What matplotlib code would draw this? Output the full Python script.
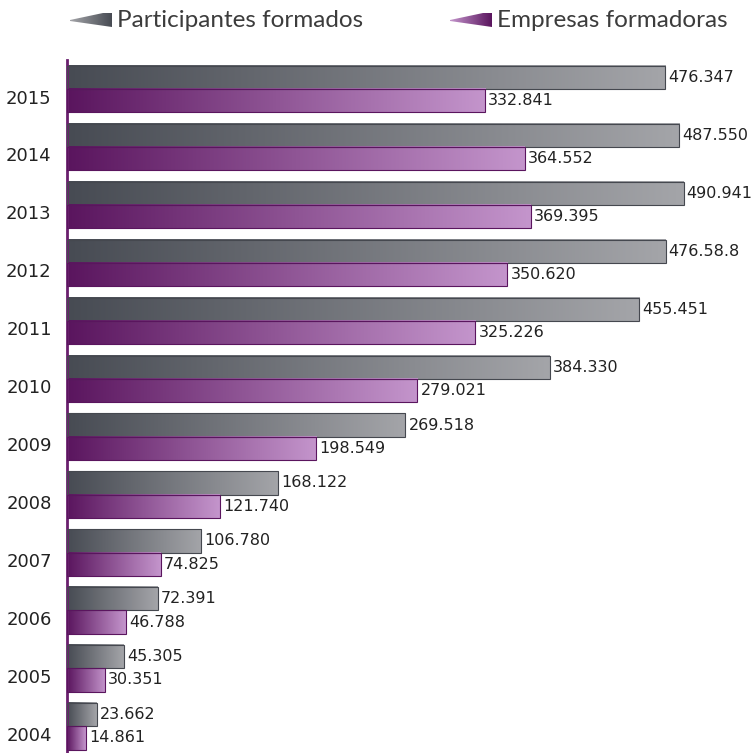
import matplotlib
matplotlib.use("Agg")
import matplotlib.pyplot as plt
import numpy as np
from matplotlib.colors import LinearSegmentedColormap
from matplotlib.patches import Rectangle, Polygon

years = ["2004", "2005", "2006", "2007", "2008", "2009", "2010", "2011", "2012", "2013", "2014", "2015"]
participantes = [23.662, 45.305, 72.391, 106.780, 168.122, 269.518, 384.330, 455.451, 476.588, 490.941, 487.550, 476.347]
empresas = [14.861, 30.351, 46.788, 74.825, 121.740, 198.549, 279.021, 325.226, 350.620, 369.395, 364.552, 332.841]
part_labels = ["23.662", "45.305", "72.391", "106.780", "168.122", "269.518", "384.330", "455.451", "476.58.8", "490.941", "487.550", "476.347"]
emp_labels = ["14.861", "30.351", "46.788", "74.825", "121.740", "198.549", "279.021", "325.226", "350.620", "369.395", "364.552", "332.841"]
legend_names = ["Participantes formados", "Empresas formadoras"]

gray_cmap = LinearSegmentedColormap.from_list("g", ["#474b53", "#a4a5a9"])
purp_cmap = LinearSegmentedColormap.from_list("p", ["#5a155e", "#c495cc"])
grad = np.linspace(0, 1, 256).reshape(1, -1)

fig = plt.figure(figsize=(7.54, 7.53), dpi=100)
ax = fig.add_axes([67 / 754, 0, 687 / 754, 693 / 753])

h = 0.4
label_font = dict(family=["DejaVu Sans"], fontsize=11.5, color="#222222")
for i in range(len(years)):
    for vals, labs, cmap, yc, ec in ((participantes, part_labels, gray_cmap, i + 0.2, "#45484f"),
                                     (empresas, emp_labels, purp_cmap, i - 0.2, "#5a155e")):
        v = vals[i]
        y0, y1 = yc - h / 2, yc + h / 2
        ax.imshow(grad, cmap=cmap, extent=(0, v, y0, y1), aspect="auto", zorder=2, interpolation="bilinear")
        ax.add_patch(Rectangle((0, y0), v, h, fill=False, edgecolor=ec, linewidth=0.8, zorder=3))
        ax.text(v + 2.5, yc, labs[i], va="center", ha="left", **label_font)

ax.set_xlim(0, 547)
ax.set_ylim(-0.46, 11.5)
ax.set_yticks([i - 0.13 for i in range(len(years))])
ax.set_yticklabels(years, fontsize=13, color="#222222", family=["DejaVu Sans"])
ax.tick_params(axis="y", length=0, pad=11)
ax.set_xticks([])
for s in ("top", "right", "bottom"):
    ax.spines[s].set_visible(False)
ax.spines["left"].set_color("#6a1f6e")
ax.spines["left"].set_linewidth(2)

# legend drawn in pixel coordinates
lax = fig.add_axes([0, 0, 1, 1], zorder=-1)
lax.set_xlim(0, 754)
lax.set_ylim(753, 0)
lax.axis("off")
for x0, cmap, name in ((70, gray_cmap, legend_names[0]), (450, purp_cmap, legend_names[1])):
    poly = Polygon([(x0, 20), (x0 + 33, 13), (x0 + 42, 13), (x0 + 42, 27), (x0, 21)], closed=True,
                   facecolor="none", edgecolor="none")
    lax.add_patch(poly)
    im = lax.imshow(grad[:, ::-1], cmap=cmap, extent=(x0, x0 + 42, 27, 13), aspect="auto", interpolation="bilinear")
    im.set_clip_path(poly)
    lax.text(x0 + 47, 20, name, va="center", ha="left", fontsize=17.5, color="#3c3c3c",
             family=["Lato", "DejaVu Sans"], fontweight="normal")
lax.set_xlim(0, 754)
lax.set_ylim(753, 0)

fig.savefig("out.png", dpi=100)
